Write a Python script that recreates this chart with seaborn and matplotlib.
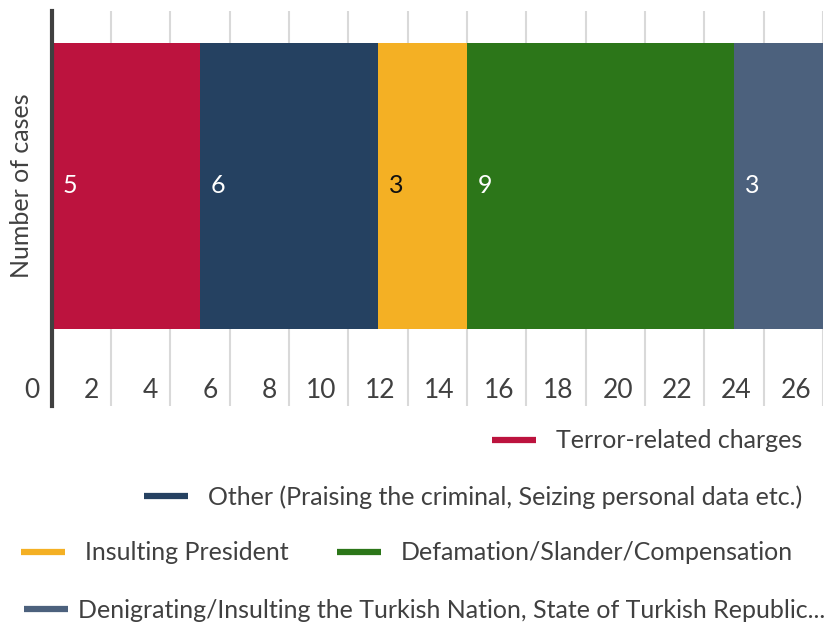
import numpy as np
import pandas as pd
import matplotlib
matplotlib.use("Agg")
import matplotlib.pyplot as plt
from matplotlib.lines import Line2D
from matplotlib.transforms import ScaledTranslation
import seaborn as sns

# ---- data ----
categories = [
    "Terror-related charges",
    "Other (Praising the criminal, Seizing personal data etc.)",
    "Insulting President",
    "Defamation/Slander/Compensation",
    "Denigrating/Insulting the Turkish Nation, State of Turkish Republic...",
]
values = [5, 6, 3, 9, 3]
colors = ["#BC133E", "#254161", "#F4B024", "#2C7619", "#4C617D"]
label_colors = ["#FFFFFF", "#FFFFFF", "#111111", "#FFFFFF", "#FFFFFF"]
row_name = "Number of cases"
x_ticks = list(range(0, 27, 2))

df = pd.DataFrame({"category": categories, "value": values})
df["cum"] = df["value"].cumsum()
df["left"] = df["cum"] - df["value"]
df["row"] = row_name

# ---- style ----
sns.set_style("white")
plt.rcParams["font.family"] = ["Lato", "DejaVu Sans"]
text_col = "#404040"

W, H = 840, 630
fig = plt.figure(figsize=(8.4, 6.3), dpi=100)
ax_l, ax_r, ax_t, ax_b = 51.5, 823, 11, 406
ax = fig.add_axes([ax_l / W, 1 - ax_b / H, (ax_r - ax_l) / W, (ax_b - ax_t) / H])

# stacked bar: draw cumulative totals from the largest down
for i in reversed(range(len(df))):
    sub = df.iloc[[i]]
    sns.barplot(data=sub, x="cum", y="row", color=colors[i], saturation=1,
                width=0.8, orient="h", ax=ax, linewidth=0)

ax.set_xlim(0, 26)
ax.set_ylim(0.6154, -0.4895)
ax.set_xticks(x_ticks)
ax.set_yticks([])
ax.set_xlabel("")
ax.set_ylabel(row_name, fontsize=18, color=text_col)
ax.yaxis.label.set_va("center")
ax.yaxis.set_label_coords((22 - ax_l) / (ax_r - ax_l), (ax_b - 186) / (ax_b - ax_t))

ax.set_axisbelow(True)
ax.xaxis.grid(True, color="#D9D9D9", linewidth=1.5)
ax.yaxis.grid(False)
for s in ["top", "right", "bottom"]:
    ax.spines[s].set_visible(False)
ax.spines["left"].set_color("#404040")
ax.spines["left"].set_linewidth(3)

ax.tick_params(axis="x", length=0, pad=0, labelsize=19, labelcolor=text_col)
offset = ScaledTranslation(-0.12, 0.08, fig.dpi_scale_trans)
for lbl in ax.get_xticklabels():
    lbl.set_horizontalalignment("right")
    lbl.set_verticalalignment("baseline")
    lbl.set_transform(lbl.get_transform() + offset)

# value labels
for i, r in df.iterrows():
    ax.annotate(str(r["value"]), xy=(r["left"], 0), xytext=(11, 0),
                textcoords="offset pixels", ha="left", va="center",
                fontsize=18, color=label_colors[i])

# legend rows (right-aligned flow layout)
def handle(c):
    return Line2D([], [], color=c, lw=4.5, solid_capstyle="butt")

rows = [
    ([0], 802, 441, 0.8),
    ([1], 802, 497, 0.8),
    ([2, 3], 793, 553, 0.8),
    ([4], 825, 610, 0.4),
]
for idx, xr, yc, tp in rows:
    fig.legend([handle(colors[k]) for k in idx], [categories[k] for k in idx],
               loc="center right", bbox_to_anchor=(xr / W, 1 - yc / H),
               ncol=len(idx), frameon=False, fontsize=18, labelcolor=text_col,
               handlelength=1.76, handletextpad=tp, columnspacing=1.92,
               borderpad=0, borderaxespad=0)

fig.savefig("out.png", dpi=100)
